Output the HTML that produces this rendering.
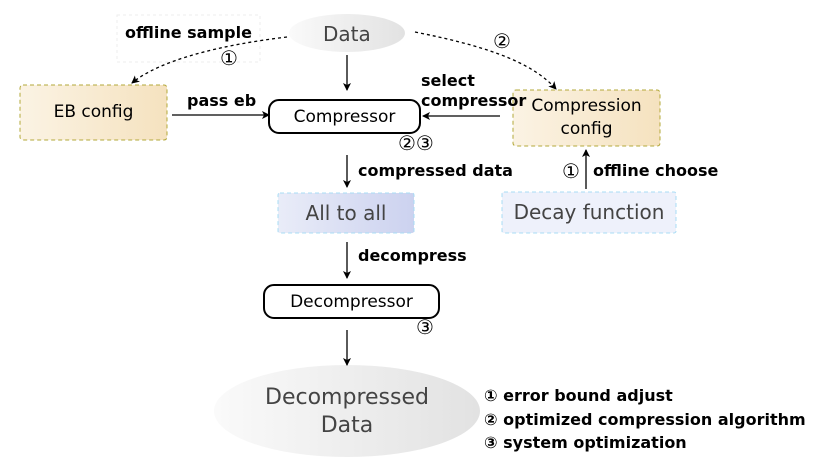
<!DOCTYPE html>
<html><head><meta charset="utf-8"><style>
body{margin:0;width:829px;height:475px;background:#fff;overflow:hidden;font-family:"DejaVu Sans","Liberation Sans",sans-serif}
.a{position:absolute}
.b{font-weight:bold;font-size:16px;color:#000;white-space:nowrap}
.g{color:#444;font-size:20px;white-space:nowrap}
.c{position:absolute;font-size:20px;line-height:20px}
</style></head><body>
<svg class="a" style="left:0;top:0" width="829" height="475">
<defs>
<marker id="m" markerWidth="8" markerHeight="8" refX="7" refY="4" orient="auto" markerUnits="userSpaceOnUse"><path d="M0,0 L8,4 L0,8 L2,4z" fill="#000"/></marker>
<linearGradient id="ell" x1="0" x2="1"><stop offset="0" stop-color="#fafafa"/><stop offset="1" stop-color="#e2e2e2"/></linearGradient>
<linearGradient id="tan" x1="0" x2="1"><stop offset="0" stop-color="#fbf3e4"/><stop offset="1" stop-color="#f5e2bf"/></linearGradient>
<linearGradient id="lav" x1="0" x2="1"><stop offset="0" stop-color="#e9ecf8"/><stop offset="1" stop-color="#ccd2ef"/></linearGradient>
</defs>
<rect x="117" y="15" width="143" height="47" fill="none" stroke="#eee" stroke-dasharray="3,3"/>
<ellipse cx="347" cy="33" rx="58" ry="19" fill="url(#ell)"/>
<ellipse cx="347" cy="411" rx="133" ry="46" fill="url(#ell)"/>
<rect x="20" y="85" width="147" height="55" rx="3" fill="url(#tan)" stroke="#b3a83a" stroke-dasharray="4,3"/>
<rect x="513" y="90" width="147" height="56" rx="3" fill="url(#tan)" stroke="#b3a83a" stroke-dasharray="4,3"/>
<rect x="278" y="193" width="136" height="40" rx="2" fill="url(#lav)" stroke="#a8dcf5" stroke-dasharray="4,3"/>
<rect x="502" y="192" width="174" height="41" rx="2" fill="#eef1fb" stroke="#a8dcf5" stroke-dasharray="4,3"/>
<rect x="269" y="100" width="151" height="33" rx="10" fill="#fff" stroke="#000" stroke-width="2"/>
<rect x="264" y="285" width="175" height="33" rx="10" fill="#fff" stroke="#000" stroke-width="2"/>
<g stroke="#000" stroke-width="1.3" fill="none">
<path d="M287,37 C220,45 160,60 132,83" stroke-dasharray="3,3" marker-end="url(#m)"/>
<path d="M415,32 C480,45 530,60 556,89" stroke-dasharray="3,3" marker-end="url(#m)"/>
<path d="M347,55 V90" marker-end="url(#m)"/>
<path d="M172,115 H269" marker-end="url(#m)"/>
<path d="M500,116 H423" marker-end="url(#m)"/>
<path d="M347,155 V187" marker-end="url(#m)"/>
<path d="M586,189 V150" marker-end="url(#m)"/>
<path d="M347,242 V278" marker-end="url(#m)"/>
<path d="M347,330 V365" marker-end="url(#m)"/>
</g>
</svg>
<div class="a b" style="left:125px;top:23px">offline sample</div>
<div class="c" style="left:220px;top:48px">①</div>
<div class="a g" style="left:323px;top:22px">Data</div>
<div class="a" style="left:20px;top:85px;width:147px;line-height:55px;text-align:center;font-size:17px">EB config</div>
<div class="a b" style="left:187px;top:91px">pass eb</div>
<div class="a" style="left:269px;top:100px;width:151px;line-height:34px;text-align:center;font-size:17px">Compressor</div>
<div class="a b" style="left:421px;top:71px;line-height:20px">select<br>compressor</div>
<div class="a" style="left:513px;top:95px;width:147px;text-align:center;font-size:17px;line-height:23px">Compression<br>config</div>
<div class="c" style="left:493px;top:31px">②</div>
<div class="c" style="left:398px;top:133px">②③</div>
<div class="a b" style="left:358px;top:161px">compressed data</div>
<div class="a g" style="left:278px;top:193px;width:136px;line-height:40px;text-align:center">All to all</div>
<div class="a g" style="left:502px;top:192px;width:174px;line-height:41px;text-align:center">Decay function</div>
<div class="c" style="left:562px;top:161px">①</div>
<div class="a b" style="left:593px;top:161px">offline choose</div>
<div class="a b" style="left:358px;top:246px">decompress</div>
<div class="a" style="left:264px;top:285px;width:175px;line-height:34px;text-align:center;font-size:17px">Decompressor</div>
<div class="c" style="left:416px;top:317px">③</div>
<div class="a g" style="left:214px;top:384px;width:266px;text-align:center;font-size:22px;line-height:28px">Decompressed<br>Data</div>
<div class="a b" style="left:484px;top:384px;line-height:23.5px">① error bound adjust<br>② optimized compression algorithm<br>③ system optimization</div>
</body></html>
